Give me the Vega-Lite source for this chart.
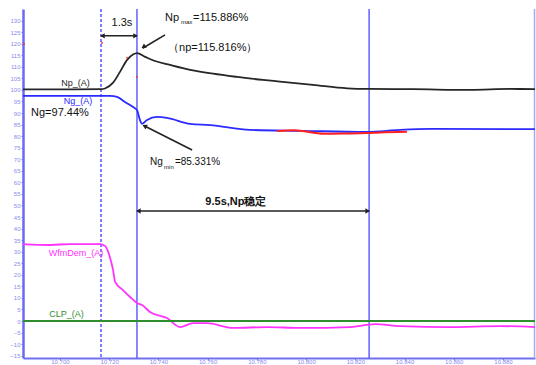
{
  "$schema": "https://vega.github.io/schema/vega-lite/v6.json",
  "width": 512,
  "height": 349,
  "autosize": {"type": "none"},
  "padding": {"left": 23, "top": 9, "right": 1, "bottom": 7},
  "background": "white",
  "config": {
    "view": {"stroke": null},
    "font": "Liberation Sans",
    "axisX": {"labelOverlap": false, "labelFlush": false},
    "axisY": {"labelOverlap": false, "labelFlush": false}
  },
  "datasets": {
    "series": [
      {"s": "Np", "t": 10.685, "v": 100.2}, {"s": "Np", "t": 10.700, "v": 100.2}, {"s": "Np", "t": 10.7167, "v": 100.3},
      {"s": "Np", "t": 10.7183, "v": 100.6}, {"s": "Np", "t": 10.7215, "v": 103}, {"s": "Np", "t": 10.7244, "v": 107.8},
      {"s": "Np", "t": 10.7273, "v": 113}, {"s": "Np", "t": 10.7297, "v": 115.3}, {"s": "Np", "t": 10.7313, "v": 115.9},
      {"s": "Np", "t": 10.7346, "v": 114.3}, {"s": "Np", "t": 10.7386, "v": 112.5}, {"s": "Np", "t": 10.7447, "v": 110.8},
      {"s": "Np", "t": 10.7529, "v": 108.7}, {"s": "Np", "t": 10.7622, "v": 107}, {"s": "Np", "t": 10.772, "v": 105.6},
      {"s": "Np", "t": 10.7825, "v": 104.3}, {"s": "Np", "t": 10.7894, "v": 103.6}, {"s": "Np", "t": 10.8028, "v": 102.2},
      {"s": "Np", "t": 10.8167, "v": 100.7}, {"s": "Np", "t": 10.826, "v": 100.4}, {"s": "Np", "t": 10.8435, "v": 100.3},
      {"s": "Np", "t": 10.8667, "v": 100.0}, {"s": "Np", "t": 10.8829, "v": 100.4}, {"s": "Np", "t": 10.893, "v": 100.3},
      {"s": "Ng", "t": 10.685, "v": 97.44}, {"s": "Ng", "t": 10.700, "v": 97.44}, {"s": "Ng", "t": 10.7204, "v": 97.4},
      {"s": "Ng", "t": 10.7232, "v": 97.0}, {"s": "Ng", "t": 10.7264, "v": 94.8}, {"s": "Ng", "t": 10.7297, "v": 92.6},
      {"s": "Ng", "t": 10.7313, "v": 91.3}, {"s": "Ng", "t": 10.7325, "v": 87.0}, {"s": "Ng", "t": 10.7334, "v": 85.33},
      {"s": "Ng", "t": 10.7354, "v": 87.0}, {"s": "Ng", "t": 10.7394, "v": 88.3}, {"s": "Ng", "t": 10.7435, "v": 87.9},
      {"s": "Ng", "t": 10.7529, "v": 85.3}, {"s": "Ng", "t": 10.761, "v": 84.8}, {"s": "Ng", "t": 10.7772, "v": 82.7},
      {"s": "Ng", "t": 10.7976, "v": 82.3}, {"s": "Ng", "t": 10.8248, "v": 81.8}, {"s": "Ng", "t": 10.8382, "v": 82.7},
      {"s": "Ng", "t": 10.8504, "v": 83.1}, {"s": "Ng", "t": 10.893, "v": 83.0},
      {"s": "WfmDem", "t": 10.685, "v": 33.3}, {"s": "WfmDem", "t": 10.696, "v": 32.9}, {"s": "WfmDem", "t": 10.7042, "v": 33.3},
      {"s": "WfmDem", "t": 10.7163, "v": 33.3}, {"s": "WfmDem", "t": 10.7183, "v": 32.5}, {"s": "WfmDem", "t": 10.7204, "v": 27.3},
      {"s": "WfmDem", "t": 10.7216, "v": 22}, {"s": "WfmDem", "t": 10.7224, "v": 16.9}, {"s": "WfmDem", "t": 10.7256, "v": 13.4},
      {"s": "WfmDem", "t": 10.7285, "v": 10.4}, {"s": "WfmDem", "t": 10.7313, "v": 7.8}, {"s": "WfmDem", "t": 10.7334, "v": 6.9},
      {"s": "WfmDem", "t": 10.7366, "v": 3.9}, {"s": "WfmDem", "t": 10.7435, "v": 1.3}, {"s": "WfmDem", "t": 10.7488, "v": -2.6},
      {"s": "WfmDem", "t": 10.7541, "v": -0.9}, {"s": "WfmDem", "t": 10.7598, "v": -0.9}, {"s": "WfmDem", "t": 10.7703, "v": -3.0},
      {"s": "WfmDem", "t": 10.7841, "v": -2.6}, {"s": "WfmDem", "t": 10.7976, "v": -3.0}, {"s": "WfmDem", "t": 10.8179, "v": -2.6},
      {"s": "WfmDem", "t": 10.828, "v": -1.3}, {"s": "WfmDem", "t": 10.8382, "v": -2.2}, {"s": "WfmDem", "t": 10.8585, "v": -2.6},
      {"s": "WfmDem", "t": 10.8788, "v": -2.2}, {"s": "WfmDem", "t": 10.893, "v": -2.6},
      {"s": "CLP", "t": 10.685, "v": 0}, {"s": "CLP", "t": 10.893, "v": 0}
    ],
    "ref": [
      {"s": "Ref", "t": 10.7882, "v": 82.2}, {"s": "Ref", "t": 10.7951, "v": 82.5}, {"s": "Ref", "t": 10.8073, "v": 81.0},
      {"s": "Ref", "t": 10.8158, "v": 81.1}, {"s": "Ref", "t": 10.8248, "v": 81.3}, {"s": "Ref", "t": 10.830, "v": 81.6},
      {"s": "Ref", "t": 10.841, "v": 81.9}
    ],
    "labels": [
      {"s": "Np", "t": 10.7063, "v": 103.0, "text": "Np_(A)"},
      {"s": "Ng", "t": 10.7073, "v": 95.0, "text": "Ng_(A)"},
      {"s": "WfmDem", "t": 10.7065, "v": 29.4, "text": "WfmDem_(A)"},
      {"s": "CLP", "t": 10.7027, "v": 3.0, "text": "CLP_(A)"}
    ],
    "notes": [
      {"t": 10.700, "v": 90.0, "text": "Ng=97.44%"},
      {"t": 10.7252, "v": 129.0, "text": "1.3s"},
      {"t": 10.7621, "v": 118.2, "text": "（np=115.816%）"}
    ],
    "notesL": [
      {"t": 10.7427, "v": 131.2, "text": "Np"},
      {"t": 10.7541, "v": 131.2, "text": "=115.886%"}
    ],
    "notes2": [
      {"t": 10.7366, "v": 68.8, "text": "Ng"},
      {"t": 10.7467, "v": 68.8, "text": "=85.331%"}
    ],
    "subs": [
      {"t": 10.7492, "v": 129.4, "text": "max"},
      {"t": 10.7423, "v": 66.8, "text": "min"}
    ],
    "bold": [
      {"t": 10.7715, "v": 51.5, "text": "9.5s,Np稳定"}
    ],
    "vlines": [
      {"t": 10.7313}, {"t": 10.8256}
    ],
    "dash": [
      {"t": 10.7167}
    ],
    "border": [
      {"t": 10.8928}
    ],
    "arrows": [
      {"t": 10.7167, "v": 123.4, "t2": 10.7313, "v2": 123.4},
      {"t": 10.7427, "v": 123.8, "t2": 10.7336, "v2": 118.0},
      {"t": 10.7537, "v": 74.0, "t2": 10.7340, "v2": 84.6},
      {"t": 10.7313, "v": 47.6, "t2": 10.8256, "v2": 47.6}
    ],
    "heads": [
      {"t": 10.7176, "v": 123.4, "a": 270},
      {"t": 10.7304, "v": 123.4, "a": 90},
      {"t": 10.7342, "v": 118.8, "a": 237},
      {"t": 10.7347, "v": 84.2, "a": 297},
      {"t": 10.7322, "v": 47.6, "a": 270},
      {"t": 10.8247, "v": 47.6, "a": 90}
    ],
    "dots": [
      {"t": 10.6854, "v": 119.9}, {"t": 10.7171, "v": 120.3}, {"t": 10.7273, "v": 113.9}, {"t": 10.7313, "v": 105.6}
    ]
  },
  "layer": [
    {
      "data": {"name": "border"},
      "mark": {"type": "rule", "color": "#a8a8f5", "strokeWidth": 1.5},
      "encoding": {
        "x": {"field": "t", "type": "quantitative", "scale": {"domain": [10.685, 10.893], "nice": false, "zero": false},
          "axis": {"values": [10.70, 10.72, 10.74, 10.76, 10.78, 10.80, 10.82, 10.84, 10.86, 10.88], "tickCount": 50, "format": ".3f", "title": null,
            "grid": false, "labelFontSize": 6, "labelColor": "#8a8af0", "domainColor": "#7070f0", "domainWidth": 2,
            "tickColor": "#7070f0", "tickSize": 2, "labelPadding": 1, "labelBaseline": "middle", "labelOverlap": false, "labelFlush": false}}
      }
    },
    {
      "data": {"name": "dash"},
      "mark": {"type": "rule", "color": "#7d7dff", "strokeWidth": 2, "strokeDash": [3, 2]},
      "encoding": {"x": {"field": "t", "type": "quantitative"}}
    },
    {
      "data": {"name": "vlines"},
      "mark": {"type": "rule", "color": "#4848ff", "strokeWidth": 1.3},
      "encoding": {"x": {"field": "t", "type": "quantitative"}}
    },
    {
      "data": {"name": "series"},
      "mark": {"type": "line", "strokeWidth": 1.8, "interpolate": "monotone"},
      "encoding": {
        "x": {"field": "t", "type": "quantitative"},
        "y": {"field": "v", "type": "quantitative", "scale": {"domain": [-16, 135], "nice": false, "zero": false},
          "axis": {"values": [-15, -10, -5, 0, 5, 10, 15, 20, 25, 30, 35, 40, 45, 50, 55, 60, 65, 70, 75, 80, 85, 90, 95, 100, 105, 110, 115, 120, 125, 130],
            "tickCount": 100, "title": null, "grid": false, "labelFontSize": 6, "labelColor": "#8a8af0", "domainColor": "#6a6af5", "domainWidth": 2.5,
            "tickColor": "#8a8af0", "tickSize": 2, "labelPadding": 1, "labelOverlap": false, "labelFlush": false}},
        "color": {"field": "s", "type": "nominal", "legend": null,
          "scale": {"domain": ["Np", "Ng", "Ref", "WfmDem", "CLP"], "range": ["#262626", "#2b2bff", "#ff2020", "#ff33ff", "#2f8f2f"]}},
        "detail": {"field": "s"}
      }
    },
    {
      "data": {"name": "ref"},
      "mark": {"type": "line", "strokeWidth": 2, "interpolate": "monotone"},
      "encoding": {
        "x": {"field": "t", "type": "quantitative"},
        "y": {"field": "v", "type": "quantitative"},
        "color": {"field": "s", "type": "nominal", "legend": null}
      }
    },
    {
      "data": {"name": "dots"},
      "mark": {"type": "point", "filled": true, "color": "#ff3030", "size": 5, "opacity": 0.8},
      "encoding": {"x": {"field": "t", "type": "quantitative"}, "y": {"field": "v", "type": "quantitative"}}
    },
    {
      "data": {"name": "arrows"},
      "mark": {"type": "rule", "color": "#222222", "strokeWidth": 1.6},
      "encoding": {
        "x": {"field": "t", "type": "quantitative"}, "y": {"field": "v", "type": "quantitative"},
        "x2": {"field": "t2"}, "y2": {"field": "v2"}
      }
    },
    {
      "data": {"name": "heads"},
      "mark": {"type": "point", "shape": "triangle", "filled": true, "color": "#222222", "size": 28, "opacity": 1},
      "encoding": {
        "x": {"field": "t", "type": "quantitative"}, "y": {"field": "v", "type": "quantitative"},
        "angle": {"field": "a", "type": "quantitative", "scale": null}
      }
    },
    {
      "data": {"name": "labels"},
      "mark": {"type": "text", "fontSize": 9, "align": "center", "baseline": "middle"},
      "encoding": {
        "x": {"field": "t", "type": "quantitative"}, "y": {"field": "v", "type": "quantitative"},
        "text": {"field": "text"},
        "color": {"field": "s", "type": "nominal", "legend": null}
      }
    },
    {
      "data": {"name": "notes"},
      "mark": {"type": "text", "fontSize": 11, "baseline": "middle", "align": "center", "color": "#111111"},
      "encoding": {
        "x": {"field": "t", "type": "quantitative"}, "y": {"field": "v", "type": "quantitative"},
        "text": {"field": "text"}
      }
    },
    {
      "data": {"name": "notesL"},
      "mark": {"type": "text", "fontSize": 11, "baseline": "middle", "align": "left", "color": "#111111"},
      "encoding": {
        "x": {"field": "t", "type": "quantitative"}, "y": {"field": "v", "type": "quantitative"},
        "text": {"field": "text"}
      }
    },
    {
      "data": {"name": "notes2"},
      "mark": {"type": "text", "fontSize": 10, "baseline": "middle", "align": "left", "color": "#111111"},
      "encoding": {
        "x": {"field": "t", "type": "quantitative"}, "y": {"field": "v", "type": "quantitative"},
        "text": {"field": "text"}
      }
    },
    {
      "data": {"name": "subs"},
      "mark": {"type": "text", "fontSize": 6, "baseline": "middle", "align": "left", "color": "#111111"},
      "encoding": {
        "x": {"field": "t", "type": "quantitative"}, "y": {"field": "v", "type": "quantitative"},
        "text": {"field": "text"}
      }
    },
    {
      "data": {"name": "bold"},
      "mark": {"type": "text", "fontSize": 11, "fontWeight": "bold", "baseline": "middle", "align": "center", "color": "#111111"},
      "encoding": {
        "x": {"field": "t", "type": "quantitative"}, "y": {"field": "v", "type": "quantitative"},
        "text": {"field": "text"}
      }
    }
  ]
}
